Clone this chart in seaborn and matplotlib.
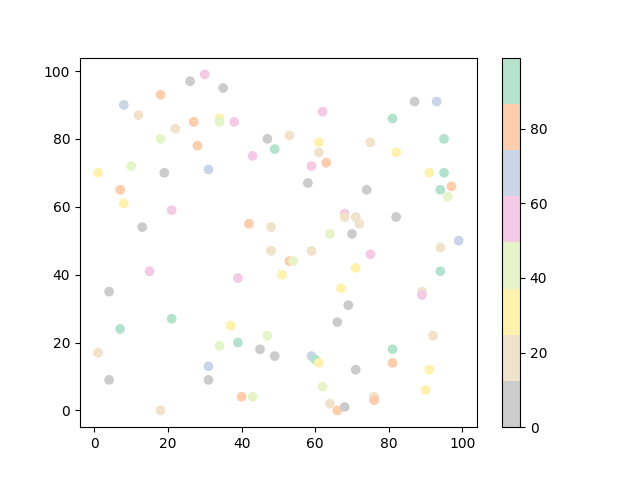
import matplotlib
matplotlib.use("Agg")
import matplotlib.pyplot as plt
import seaborn as sns
import numpy as np
from matplotlib.colors import Normalize
from matplotlib.cm import ScalarMappable

# colour levels
GRAY, BEIGE, YELLOW, LGREEN, PINK, BLUE, ORANGE, GREEN = 6, 18, 31, 43, 56, 68, 80, 93

x_vals = [1, 1, 4, 4, 7, 7, 8, 8, 10, 12, 13, 15, 18, 18, 18, 19, 21, 21, 22, 26,
          27, 28, 30, 31, 31, 31, 34, 34, 34, 35, 37, 38, 39, 39, 40, 42, 43, 43, 45, 47,
          47, 48, 48, 49, 49, 51, 53, 53, 54, 58, 59, 59, 59, 60, 61, 61, 61, 62, 62, 63,
          64, 64, 66, 66, 67, 68, 68, 68, 69, 70, 71, 71, 71, 72, 74, 75, 75, 76, 76, 81,
          81, 81, 82, 82, 87, 89, 89, 90, 91, 91, 92, 93, 94, 94, 94, 95, 95, 96, 97, 99]
y_vals = [70, 17, 35, 9, 65, 24, 90, 61, 72, 87, 54, 41, 93, 80, 0, 70, 59, 27, 83, 97,
          85, 78, 99, 71, 13, 9, 86, 85, 19, 95, 25, 85, 39, 20, 4, 55, 75, 4, 18, 80,
          22, 54, 47, 77, 16, 40, 81, 44, 44, 67, 72, 47, 16, 15, 79, 76, 14, 88, 7, 73,
          52, 2, 26, 0, 36, 58, 57, 1, 31, 52, 57, 42, 12, 55, 65, 79, 46, 4, 3, 86,
          18, 14, 76, 57, 91, 35, 34, 6, 70, 12, 22, 91, 65, 48, 41, 80, 70, 63, 66, 50]
c_vals = [YELLOW, BEIGE, GRAY, GRAY, ORANGE, GREEN, BLUE, YELLOW, LGREEN, BEIGE,
          GRAY, PINK, ORANGE, LGREEN, BEIGE, GRAY, PINK, GREEN, BEIGE, GRAY,
          ORANGE, ORANGE, PINK, BLUE, BLUE, GRAY, YELLOW, LGREEN, LGREEN, GRAY,
          YELLOW, PINK, PINK, GREEN, ORANGE, ORANGE, PINK, LGREEN, GRAY, GRAY,
          LGREEN, BEIGE, BEIGE, GREEN, GRAY, YELLOW, BEIGE, ORANGE, LGREEN, GRAY,
          PINK, BEIGE, BLUE, GREEN, YELLOW, BEIGE, YELLOW, PINK, LGREEN, ORANGE,
          LGREEN, BEIGE, GRAY, ORANGE, YELLOW, PINK, BEIGE, GRAY, GRAY, GRAY,
          BEIGE, YELLOW, GRAY, BEIGE, GRAY, BEIGE, PINK, BEIGE, ORANGE, GREEN,
          GREEN, ORANGE, YELLOW, GRAY, GRAY, BEIGE, PINK, YELLOW, YELLOW, YELLOW,
          BEIGE, BLUE, GREEN, BEIGE, GREEN, GREEN, GREEN, LGREEN, ORANGE, BLUE]

cmap = "Pastel2_r"
norm = Normalize(vmin=0, vmax=99)

fig, ax = plt.subplots(figsize=(6.4, 4.8), dpi=100)

sns.scatterplot(x=x_vals, y=y_vals, hue=c_vals, palette=cmap, hue_norm=norm,
                edgecolor="face", linewidth=1, s=36, legend=False, ax=ax)

fig.colorbar(ScalarMappable(norm=norm, cmap=cmap), ax=ax)

plt.savefig("out.png")
plt.close(fig)
